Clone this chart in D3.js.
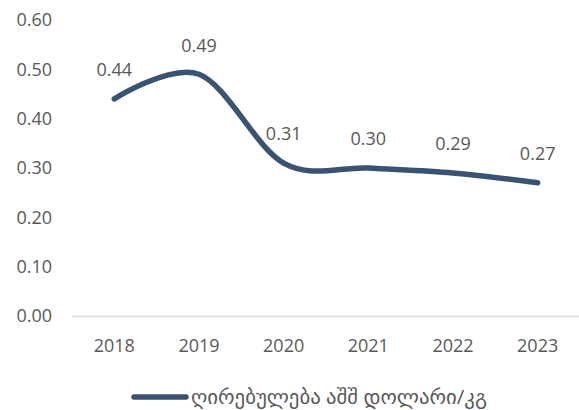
<!DOCTYPE html>
<html><head><meta charset="utf-8">
<script src="https://cdn.jsdelivr.net/npm/d3@7"></script>
<style>
html,body{margin:0;padding:0;background:#fff;}
svg text{font-family:"Open Sans","DejaVu Sans",sans-serif;fill:#595959;}
</style></head>
<body><svg id="c" width="579" height="410"></svg>
<script>
const years = ["2018","2019","2020","2021","2022","2023"];
const values = [0.44, 0.49, 0.31, 0.30, 0.29, 0.27];
const yTicks = [0, 0.1, 0.2, 0.3, 0.4, 0.5, 0.6];
const seriesName = "ღირებულება აშშ დოლარი/კგ";

const svg = d3.select("#c");
const lineColor = "#3a5372";
const x = d3.scaleBand().domain(years).range([72, 580]);
const y = d3.scaleLinear().domain([0, 0.6]).range([316, 20]);

// y tick labels
svg.append("g").selectAll("text").data(yTicks).join("text")
  .attr("x", 52).attr("y", d => y(d)).attr("dy", "0.35em")
  .attr("text-anchor", "end").style("font-size", "18px")
  .text(d => d.toFixed(2));

// x axis line
svg.append("line").attr("x1", 72).attr("x2", 579)
  .attr("y1", y(0) + 0.5).attr("y2", y(0) + 0.5)
  .attr("stroke", "#d9d9d9").attr("stroke-width", 1.5);

// x labels
svg.append("g").selectAll("text").data(years).join("text")
  .attr("x", d => x(d) + x.bandwidth() / 2).attr("y", 346).attr("dy", "0.35em")
  .attr("text-anchor", "middle").style("font-size", "18px")
  .text(d => d);

const data = years.map((yr, i) => ({yr, v: values[i]}));
const line = d3.line()
  .x(d => x(d.yr) + x.bandwidth() / 2)
  .y(d => y(d.v))
  .curve(d3.curveCardinal.tension(0));

svg.append("path").datum(data).attr("d", line)
  .attr("fill", "none").attr("stroke", lineColor)
  .attr("stroke-width", 5.5).attr("stroke-linecap", "round").attr("stroke-linejoin", "round");

// data labels
svg.append("g").selectAll("text").data(data).join("text")
  .attr("x", d => x(d.yr) + x.bandwidth() / 2)
  .attr("y", d => y(d.v) - 29).attr("dy", "0.35em")
  .attr("text-anchor", "middle").style("font-size", "18px")
  .text(d => d.v.toFixed(2));

// legend
svg.append("line").attr("x1", 134).attr("x2", 186).attr("y1", 397).attr("y2", 397)
  .attr("stroke", lineColor).attr("stroke-width", 5.5).attr("stroke-linecap", "round");
svg.append("text").attr("x", 191).attr("y", 397).attr("dy", "0.35em")
  .style("font-size", "20px")
  .attr("textLength", 296).attr("lengthAdjust", "spacingAndGlyphs")
  .text(seriesName);
</script></body></html>
